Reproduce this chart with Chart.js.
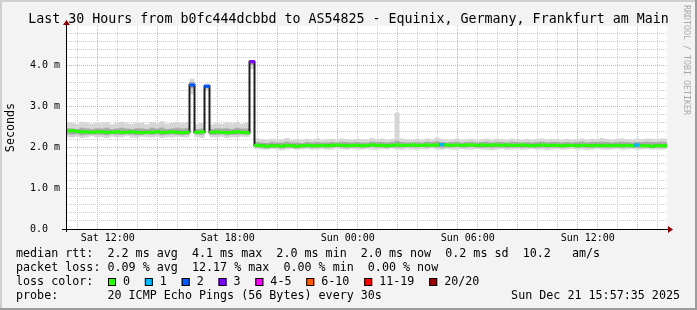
<!DOCTYPE html>
<html>
<head>
<meta charset="utf-8">
<script src="https://cdn.jsdelivr.net/npm/chart.js@4.4.1/dist/chart.umd.min.js"></script>
<style>
  html, body { margin: 0; padding: 0; background: #f3f3f3; }
  canvas { display: block; }
</style>
</head>
<body>
<canvas id="smoke" width="697" height="310"></canvas>
<script>
// time axis in hours of the clock, Sat 09:57:35 .. Sun 15:57:35
const START_HOUR = 9.96;
const STEP_HOURS = 0.25;
const END_HOUR = 39.96;
const Y_MAX = 4.975;

const xTickHours = [12, 18, 24, 30, 36];
const xTickLabels = ['Sat 12:00', 'Sat 18:00', 'Sun 00:00', 'Sun 06:00', 'Sun 12:00'];
const yTickValues = [0, 1, 2, 3, 4];
const yTickLabels = ['0.0  ', '1.0 m', '2.0 m', '3.0 m', '4.0 m'];

// median rtt (ms), one value per 15 minutes
const median = [
  2.40, 2.41, 2.39, 2.38, 2.38, 2.37, 2.38, 2.38, 2.37, 2.37,
  2.38, 2.37, 2.37, 2.38, 2.37, 2.36, 2.37, 2.37, 2.38, 2.37,
  2.37, 2.38, 2.37, 2.36, 2.37, 3.53, 2.37, 2.38, 3.50, 2.37,
  2.38, 2.37, 2.36, 2.37, 2.38, 2.37, 2.36,
  4.10,
  2.05, 2.04, 2.03, 2.04, 2.04, 2.03, 2.05, 2.04, 2.03, 2.04,
  2.05, 2.04, 2.04, 2.05, 2.04, 2.05, 2.06, 2.05, 2.04, 2.05,
  2.05, 2.04, 2.05, 2.06, 2.05, 2.05, 2.04, 2.05, 2.06, 2.05,
  2.05, 2.06, 2.05, 2.05, 2.06, 2.05, 2.06, 2.07, 2.06, 2.05,
  2.06, 2.05, 2.06, 2.06, 2.05, 2.06, 2.05, 2.06, 2.06, 2.05,
  2.06, 2.05, 2.05, 2.06, 2.05, 2.04, 2.05, 2.06, 2.05, 2.05,
  2.05, 2.04, 2.05, 2.05, 2.04, 2.05, 2.05, 2.04, 2.05, 2.04,
  2.05, 2.04, 2.05, 2.04, 2.05, 2.04, 2.06, 2.04, 2.04, 2.03,
  2.04, 2.04, 2.04
];

// lost pings out of 20
const loss = [
  0, 0, 0, 0, 0, 0, 0, 0, 0, 0, 0, 0, 0, 0, 0, 0, 0, 0, 0, 0,
  0, 0, 0, 0, 0, 2, 0, 0, 2, 0, 0, 0, 0, 0, 0, 0, 0, 3, 0, 0,
  0, 0, 0, 0, 0, 0, 0, 0, 0, 0, 0, 0, 0, 0, 0, 0, 0, 0, 0, 0,
  0, 0, 0, 0, 0, 0, 0, 0, 0, 0, 0, 0, 0, 0, 0, 1, 0, 0, 0, 0,
  0, 0, 0, 0, 0, 0, 0, 0, 0, 0, 0, 0, 0, 0, 0, 0, 0, 0, 0, 0,
  0, 0, 0, 0, 0, 0, 0, 0, 0, 0, 0, 0, 0, 0, 1, 0, 0, 0, 0, 0,
  0
];

// smoke: spread of the single pings
const smokeOuterHi = [
  2.62, 2.60, 2.58, 2.63, 2.60, 2.58, 2.61, 2.59, 2.62, 2.57,
  2.60, 2.63, 2.59, 2.58, 2.61, 2.60, 2.57, 2.62, 2.59, 2.64,
  2.58, 2.60, 2.62, 2.59, 2.61, 3.68, 2.58, 2.60, 3.56, 2.57,
  2.60, 2.58, 2.61, 2.59, 2.62, 2.58, 2.60,
  4.14,
  2.22, 2.20, 2.18, 2.21, 2.19, 2.20, 2.23, 2.18, 2.20, 2.19,
  2.21, 2.19, 2.22, 2.18, 2.20, 2.21, 2.19, 2.22, 2.20, 2.18,
  2.21, 2.20, 2.19, 2.23, 2.20, 2.22, 2.19, 2.21, 2.85, 2.22,
  2.20, 2.18, 2.21, 2.19, 2.22, 2.20, 2.24, 2.21, 2.19, 2.20,
  2.22, 2.19, 2.20, 2.21, 2.18, 2.20, 2.22, 2.19, 2.21, 2.20,
  2.19, 2.22, 2.20, 2.18, 2.21, 2.19, 2.20, 2.22, 2.19, 2.21,
  2.20, 2.18, 2.21, 2.19, 2.20, 2.22, 2.19, 2.21, 2.20, 2.23,
  2.20, 2.19, 2.21, 2.22, 2.20, 2.19, 2.21, 2.20, 2.22, 2.21,
  2.20, 2.22, 2.21
];
const smokeOuterLo = [
  2.25, 2.24, 2.26, 2.23, 2.25, 2.27, 2.24, 2.25, 2.23, 2.26,
  2.24, 2.25, 2.27, 2.24, 2.23, 2.26, 2.25, 2.24, 2.26, 2.23,
  2.25, 2.24, 2.26, 2.25, 2.24, 3.30, 2.25, 2.23, 3.38, 2.25,
  2.24, 2.26, 2.23, 2.25, 2.24, 2.26, 2.25,
  3.92,
  1.96, 1.95, 1.94, 1.96, 1.95, 1.93, 1.95, 1.96, 1.94, 1.95,
  1.96, 1.94, 1.95, 1.96, 1.94, 1.95, 1.97, 1.95, 1.94, 1.96,
  1.95, 1.94, 1.96, 1.95, 1.94, 1.96, 1.95, 1.97, 1.95, 1.94,
  1.96, 1.95, 1.94, 1.96, 1.95, 1.97, 1.95, 1.94, 1.96, 1.95,
  1.94, 1.96, 1.95, 1.94, 1.96, 1.95, 1.94, 1.93, 1.95, 1.96,
  1.94, 1.95, 1.96, 1.94, 1.95, 1.96, 1.94, 1.95, 1.93, 1.95,
  1.96, 1.94, 1.95, 1.96, 1.94, 1.95, 1.93, 1.94, 1.96, 1.95,
  1.94, 1.95, 1.96, 1.94, 1.95, 1.96, 1.94, 1.95, 1.96, 1.94,
  1.95, 1.94, 1.96
];
const smokeInnerHi = [
  2.47, 2.46, 2.45, 2.48, 2.46, 2.45, 2.47, 2.46, 2.48, 2.45,
  2.46, 2.48, 2.46, 2.45, 2.47, 2.46, 2.45, 2.48, 2.46, 2.49,
  2.45, 2.46, 2.48, 2.46, 2.47, 3.60, 2.45, 2.46, 3.53, 2.45,
  2.47, 2.46, 2.47, 2.45, 2.48, 2.46, 2.46,
  4.12,
  2.13, 2.12, 2.11, 2.13, 2.12, 2.12, 2.14, 2.12, 2.12, 2.11,
  2.13, 2.12, 2.13, 2.12, 2.12, 2.13, 2.12, 2.14, 2.13, 2.12,
  2.13, 2.12, 2.12, 2.14, 2.13, 2.13, 2.12, 2.13, 2.16, 2.13,
  2.12, 2.12, 2.13, 2.12, 2.14, 2.13, 2.15, 2.13, 2.12, 2.13,
  2.14, 2.12, 2.13, 2.13, 2.12, 2.13, 2.14, 2.12, 2.13, 2.13,
  2.12, 2.14, 2.13, 2.12, 2.13, 2.12, 2.13, 2.14, 2.12, 2.13,
  2.13, 2.12, 2.13, 2.12, 2.13, 2.14, 2.12, 2.13, 2.13, 2.14,
  2.13, 2.12, 2.13, 2.14, 2.13, 2.12, 2.13, 2.13, 2.14, 2.13,
  2.13, 2.14, 2.13
];
const smokeInnerLo = [
  2.32, 2.31, 2.32, 2.30, 2.31, 2.32, 2.31, 2.31, 2.30, 2.32,
  2.31, 2.31, 2.32, 2.31, 2.30, 2.31, 2.32, 2.31, 2.32, 2.30,
  2.31, 2.32, 2.31, 2.30, 2.31, 3.45, 2.32, 2.31, 3.45, 2.31,
  2.31, 2.32, 2.30, 2.31, 2.31, 2.32, 2.31,
  4.02,
  2.00, 1.99, 1.98, 1.99, 1.99, 1.98, 2.00, 1.99, 1.98, 1.99,
  2.00, 1.99, 1.99, 2.00, 1.99, 2.00, 2.01, 2.00, 1.99, 2.00,
  2.00, 1.99, 2.00, 2.01, 2.00, 2.00, 1.99, 2.00, 2.00, 2.00,
  2.01, 2.00, 2.00, 2.01, 2.00, 2.01, 2.00, 1.99, 2.00, 2.00,
  2.01, 2.00, 2.00, 2.01, 2.00, 1.99, 2.00, 1.99, 2.00, 2.00,
  1.99, 2.00, 2.00, 1.99, 2.00, 2.00, 1.99, 2.00, 1.99, 2.00,
  2.00, 1.99, 2.00, 2.01, 1.99, 2.00, 1.99, 1.99, 2.00, 2.00,
  1.99, 2.00, 2.00, 1.99, 2.00, 2.00, 1.99, 2.00, 2.00, 1.99,
  2.00, 1.99, 1.99
];

const lossLabels = ['0', '1', '2', '3', '4-5', '6-10', '11-19', '20/20'];
const lossColors = ['#26ff00', '#00b8ff', '#0059ff', '#7e00ff', '#ff00ff', '#ff5a00', '#ff0000', '#a00000'];

const TITLE = 'Last 30 Hours from b0fc444dcbbd to AS54825 - Equinix, Germany, Frankfurt am Main';
const RTT_LINE = 'median rtt:  2.2 ms avg  4.1 ms max  2.0 ms min  2.0 ms now  0.2 ms sd  10.2   am/s';
const LOSS_LINE = 'packet loss: 0.09 % avg  12.17 % max  0.00 % min  0.00 % now';
const PROBE_LINE = 'probe:       20 ICMP Echo Pings (56 Bytes) every 30s';
const STAMP = 'Sun Dec 21 15:57:35 2025';

const MONO = '"DejaVu Sans Mono", "Liberation Mono", monospace';
const MAJOR = 'rgba(255, 0, 0, 0.38)';
const MINOR = '#cdcdcd';
const STRIP = 0.03;   // half height of the coloured median strip, ms

const times = median.map((_, i) => START_HOUR + i * STEP_HOURS);
const hourTicks = Array.from({length: 30}, (_, i) => 10 + i);

function lossBucket(n) {
  if (n <= 3) return n;
  if (n <= 5) return 4;
  if (n <= 10) return 5;
  if (n <= 19) return 6;
  return 7;
}

const smokeLine = {
  type: 'line', stepped: 'middle', pointRadius: 0,
  borderColor: 'rgba(0,0,0,0)', borderWidth: 1
};

const decorations = {
  id: 'decorations',
  beforeDraw(chart) {
    const {ctx, width, height, chartArea: a} = chart;
    ctx.save();
    ctx.fillStyle = '#f3f3f3';
    ctx.fillRect(0, 0, width, height);
    ctx.fillStyle = '#cfcfcf';
    ctx.fillRect(0, 0, width, 2);
    ctx.fillRect(0, 0, 2, height);
    ctx.fillStyle = '#9c9c9c';
    ctx.fillRect(width - 2, 0, 2, height);
    ctx.fillRect(0, height - 2, width, 2);
    ctx.fillStyle = '#ffffff';
    ctx.fillRect(a.left, a.top, a.right - a.left, a.bottom - a.top);
    ctx.restore();
  },
  afterDraw(chart) {
    const {ctx, width, chartArea: a} = chart;
    ctx.save();
    // axes with arrows
    const xa = Math.round(a.left) - 0.5;
    const ya = Math.round(a.bottom) + 0.5;
    ctx.strokeStyle = '#000';
    ctx.lineWidth = 1;
    ctx.beginPath();
    ctx.moveTo(a.left - 5, ya);
    ctx.lineTo(a.right + 2, ya);
    ctx.moveTo(xa, a.bottom + 3);
    ctx.lineTo(xa, a.top - 3);
    ctx.stroke();
    ctx.fillStyle = '#8b0000';
    ctx.beginPath();
    ctx.moveTo(a.right + 1, ya - 3.5);
    ctx.lineTo(a.right + 6, ya);
    ctx.lineTo(a.right + 1, ya + 3.5);
    ctx.closePath();
    ctx.fill();
    ctx.beginPath();
    ctx.moveTo(xa - 3.5, a.top - 1);
    ctx.lineTo(xa, a.top - 6);
    ctx.lineTo(xa + 3.5, a.top - 1);
    ctx.closePath();
    ctx.fill();

    // title
    ctx.fillStyle = '#000';
    ctx.textBaseline = 'middle';
    ctx.textAlign = 'center';
    ctx.font = '13.3px ' + MONO;
    ctx.fillText(TITLE, width / 2, 19.5);

    // rrdtool credit
    ctx.save();
    ctx.translate(686, 5);
    ctx.rotate(Math.PI / 2);
    ctx.textAlign = 'left';
    ctx.fillStyle = '#a8a8a8';
    ctx.font = '8.3px ' + MONO;
    ctx.fillText('RRDTOOL / TOBI OETIKER', 0, 0);
    ctx.restore();

    // legend block
    ctx.font = '11.7px ' + MONO;
    ctx.textAlign = 'left';
    ctx.fillStyle = '#000';
    ctx.fillText(RTT_LINE, 16, 254);
    ctx.fillText(LOSS_LINE, 16, 268);
    ctx.fillText('loss color:', 16, 282);
    let x = 108;
    lossLabels.forEach((lab, i) => {
      ctx.fillStyle = lossColors[i];
      ctx.fillRect(x, 278, 8, 8);
      ctx.strokeStyle = '#000';
      ctx.strokeRect(x + 0.5, 278.5, 7, 7);
      ctx.fillStyle = '#000';
      ctx.fillText(lab, x + 15, 282);
      x += 15 + ctx.measureText(lab).width + 14.8;
    });
    ctx.fillText(PROBE_LINE, 16, 296);
    ctx.textAlign = 'right';
    ctx.fillText(STAMP, 680, 296);
    ctx.restore();
  }
};

new Chart(document.getElementById('smoke'), {
  type: 'line',
  data: {
    labels: times,
    datasets: [
      Object.assign({}, smokeLine, {data: smokeOuterLo, fill: false, order: 5}),
      Object.assign({}, smokeLine, {data: smokeOuterHi, fill: '-1', backgroundColor: '#d6d6d6', order: 4}),
      Object.assign({}, smokeLine, {data: smokeInnerLo, fill: false, order: 3}),
      Object.assign({}, smokeLine, {data: smokeInnerHi, fill: '-1', backgroundColor: '#a9a9a9', order: 2}),
      {
        type: 'line', data: median, stepped: 'middle', pointRadius: 0,
        borderColor: '#202020', borderWidth: 2, borderJoinStyle: 'miter', borderCapStyle: 'butt',
        fill: false, order: 1
      },
      {
        type: 'bar', data: median.map(m => [m - STRIP, m + STRIP]),
        backgroundColor: loss.map(n => lossColors[lossBucket(n)]),
        borderWidth: 0, barPercentage: 1, categoryPercentage: 1, order: 0
      }
    ]
  },
  options: {
    responsive: false,
    animation: false,
    devicePixelRatio: 1,
    layout: {padding: {left: 0, top: 26, right: 30, bottom: 0}},
    plugins: {legend: {display: false}, tooltip: {enabled: false}, title: {display: false}},
    scales: {
      x: {
        type: 'linear', min: START_HOUR, max: END_HOUR, offset: false,
        afterBuildTicks: s => { s.ticks = hourTicks.map(v => ({value: v})); },
        afterFit: s => { s.height = 310 - 229; },
        ticks: {
          autoSkip: false, maxRotation: 0, padding: 3, color: '#000',
          font: {family: MONO, size: 10},
          callback: v => { const k = xTickHours.indexOf(v); return k < 0 ? '' : xTickLabels[k]; }
        },
        grid: {
          drawTicks: false, lineWidth: 1,
          color: c => (c.tick && c.tick.value % 3 === 0) ? MAJOR : MINOR
        },
        border: {display: false, dash: [1, 1]}
      },
      y: {
        min: 0, max: Y_MAX,
        afterBuildTicks: s => { s.ticks = Array.from({length: 25}, (_, i) => ({value: Math.round(i * 2) / 10})); },
        afterFit: s => { s.width = 67; },
        ticks: {
          autoSkip: false, padding: 7, color: '#000',
          font: {family: MONO, size: 10},
          callback: v => { const k = yTickValues.indexOf(v); return k < 0 ? '' : yTickLabels[k]; }
        },
        grid: {
          drawTicks: false, lineWidth: 1,
          color: c => (c.tick && Number.isInteger(c.tick.value)) ? MAJOR : MINOR
        },
        border: {display: false, dash: [1, 1]},
        title: {
          display: true, text: 'Seconds', color: '#000',
          font: {family: MONO, size: 11.7}, padding: {top: 4, bottom: 0}
        }
      }
    }
  },
  plugins: [decorations]
});
</script>
</body>
</html>
